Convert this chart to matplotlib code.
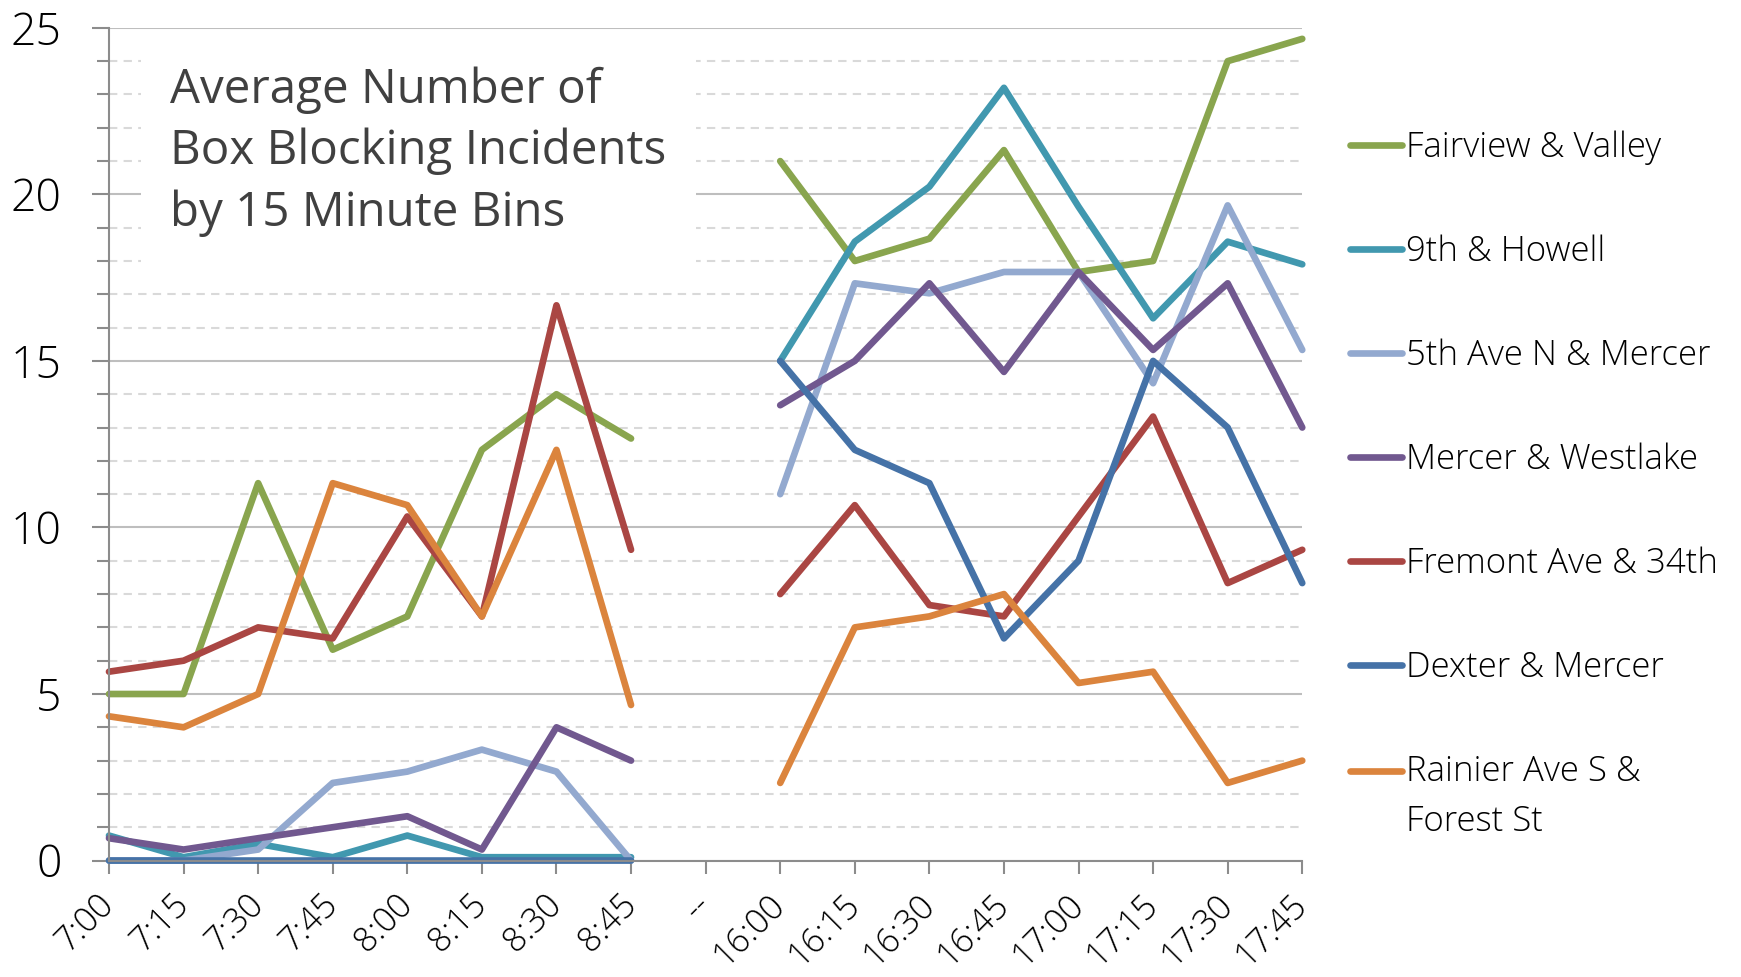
import numpy as np
import matplotlib
matplotlib.use("Agg")
import matplotlib.pyplot as plt
from matplotlib.ticker import MultipleLocator

plt.rcParams['font.family'] = ['Open Sans', 'DejaVu Sans']

# 15 minute bins, morning and evening, with a spacer between them
times = ['7:00', '7:15', '7:30', '7:45', '8:00', '8:15', '8:30', '8:45', '--',
         '16:00', '16:15', '16:30', '16:45', '17:00', '17:15', '17:30', '17:45']

nan = np.nan
fairview = [5.0, 5.0, 11.33, 6.33, 7.33, 12.33, 14.0, 12.67, nan,
            21.0, 18.0, 18.67, 21.33, 17.67, 18.0, 24.0, 24.67]
howell = [0.75, 0.1, 0.5, 0.1, 0.75, 0.1, 0.1, 0.1, nan,
          15.0, 18.58, 20.23, 23.2, 19.63, 16.28, 18.58, 17.9]
fifth_ave = [0.0, 0.0, 0.33, 2.33, 2.67, 3.33, 2.67, 0.0, nan,
             11.0, 17.33, 17.03, 17.67, 17.67, 14.33, 19.67, 15.33]
westlake = [0.67, 0.33, 0.67, 1.0, 1.33, 0.33, 4.0, 3.0, nan,
            13.67, 15.0, 17.33, 14.67, 17.67, 15.33, 17.33, 13.0]
fremont = [5.67, 6.0, 7.0, 6.67, 10.33, 7.33, 16.67, 9.33, nan,
           8.0, 10.67, 7.67, 7.33, 10.33, 13.33, 8.33, 9.33]
dexter = [0, 0, 0, 0, 0, 0, 0, 0, nan,
          15.0, 12.33, 11.33, 6.67, 9.0, 15.0, 13.0, 8.33]
rainier = [4.33, 4.0, 5.0, 11.33, 10.67, 7.33, 12.33, 4.67, nan,
           2.33, 7.0, 7.33, 8.0, 5.33, 5.67, 2.33, 3.0]

names = ['Fairview & Valley', '9th & Howell', '5th Ave N & Mercer',
         'Mercer & Westlake', 'Fremont Ave & 34th', 'Dexter & Mercer',
         'Rainier Ave S &\nForest St']
series = [fairview, howell, fifth_ave, westlake, fremont, dexter, rainier]
colors = ['#89A54E', '#4198AF', '#93A9CF', '#71588F', '#AA4643', '#4572A7', '#DB843D']

fig = plt.figure(figsize=(17.41, 9.77), dpi=100)
ax = fig.add_axes([0.0626, 0.1192, 0.6854, 0.8523])

x = np.arange(len(times))
for vals, name, c in zip(series, names, colors):
    ax.plot(x, vals, color=c, lw=4.8, label=name, clip_on=False,
            solid_capstyle='round', solid_joinstyle='round')

ax.set_xlim(0, len(times) - 1)
ax.set_ylim(0, 25)
ax.set_xticks(x)
ax.set_xticklabels(times)
ax.yaxis.set_major_locator(MultipleLocator(5))
ax.yaxis.set_minor_locator(MultipleLocator(1))

ax.set_axisbelow(True)
ax.grid(which='major', axis='y', color='#BEBEBE', lw=1.5, ls='-')
ax.grid(which='minor', axis='y', color='#D9D9D9', lw=1.5, ls=(0, (4, 3)))

for s in ['top', 'right']:
    ax.spines[s].set_visible(False)
for s in ['left', 'bottom']:
    ax.spines[s].set_color('#8C8C8C')
    ax.spines[s].set_linewidth(1.5)

ax.tick_params(axis='y', which='major', length=12, width=1.5, color='#8C8C8C',
               labelsize=32, pad=22)
ax.tick_params(axis='y', which='minor', length=9, width=1.5, color='#8C8C8C')
ax.tick_params(axis='x', length=9, width=1.5, color='#8C8C8C', labelsize=24.5, pad=19)
for lab in ax.get_yticklabels():
    lab.set_fontweight('light')
for lab in ax.get_xticklabels():
    lab.set_rotation(45)
    lab.set_ha('right')
    lab.set_va('center')
    lab.set_rotation_mode('anchor')
    lab.set_fontweight('light')

ax.text(0.82, 23.85, 'Average Number of\nBox Blocking Incidents\nby 15 Minute Bins',
        fontsize=34.2, color='#404040', va='top', ha='left', linespacing=1.39,
        bbox=dict(boxstyle='square,pad=0.62', facecolor='white', edgecolor='none'),
        zorder=1.5)

leg = fig.legend(loc='upper left', bbox_to_anchor=(0.7655, 0.8841), frameon=False,
                 handlelength=1.5, handletextpad=0.12,
                 labelspacing=2.0, borderpad=0, prop={'weight': 'light', 'size': 25})
for t in leg.get_texts():
    t.set_linespacing(1.6)
for h in leg.get_lines():
    h.set_linewidth(4.8)
# the two-line entry keeps its line level with the first row of text
last = leg.get_lines()[-1]
last.set_ydata(np.asarray(last.get_ydata()) + 19)

fig.savefig('out.png', dpi=100)
